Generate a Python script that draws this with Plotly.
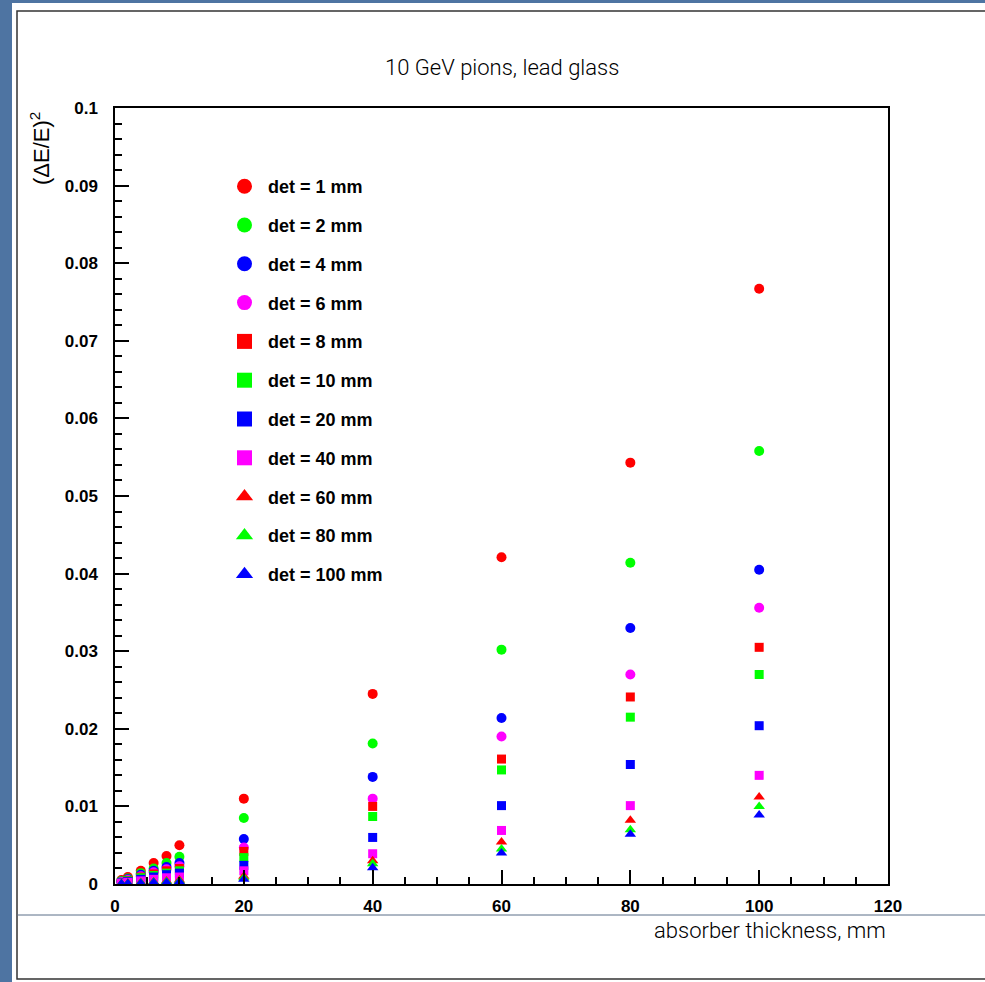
import plotly.graph_objects as go

# absorber thickness, mm
thickness = [1, 2, 4, 6, 8, 10, 20, 40, 60, 80, 100]

# (dE/E)^2 for each detector thickness
det_1 = [0.0005, 0.0009, 0.0017, 0.0027, 0.0036, 0.0050, 0.0110, 0.0245, 0.0421, 0.0543, 0.0767]
det_2 = [0.0004, 0.0007, 0.0014, 0.0020, 0.0027, 0.0035, 0.0085, 0.0181, 0.0302, 0.0414, 0.0558]
det_4 = [0.0003, 0.0006, 0.0012, 0.0017, 0.0022, 0.0027, 0.0058, 0.0138, 0.0214, 0.0330, 0.0405]
det_6 = [0.00025, 0.0005, 0.0010, 0.0015, 0.0019, 0.0023, 0.0047, 0.0110, 0.0190, 0.0270, 0.0356]
det_8 = [0.0002, 0.00045, 0.0009, 0.0013, 0.0017, 0.0020, 0.0042, 0.0100, 0.0161, 0.0241, 0.0305]
det_10 = [0.0002, 0.0004, 0.0008, 0.0011, 0.0014, 0.0017, 0.0034, 0.0087, 0.0147, 0.0215, 0.0270]
det_20 = [0.00015, 0.0003, 0.0006, 0.0009, 0.0012, 0.0014, 0.0024, 0.0060, 0.0101, 0.0154, 0.0204]
det_40 = [0.0001, 0.0002, 0.0004, 0.0006, 0.0008, 0.0009, 0.0017, 0.0039, 0.0069, 0.0101, 0.0140]
det_60 = [0.00005, 0.0001, 0.0002, 0.0003, 0.0004, 0.0005, 0.0010, 0.0030, 0.0054, 0.0082, 0.0112]
det_80 = [0.00004, 0.00008, 0.00015, 0.00025, 0.0003, 0.0004, 0.0008, 0.0026, 0.0045, 0.0070, 0.0100]
det_100 = [0.00003, 0.00006, 0.0001, 0.0002, 0.0002, 0.0003, 0.0006, 0.0021, 0.0040, 0.0064, 0.0089]

series_names = ["det = 1 mm", "det = 2 mm", "det = 4 mm", "det = 6 mm", "det = 8 mm",
                "det = 10 mm", "det = 20 mm", "det = 40 mm", "det = 60 mm", "det = 80 mm",
                "det = 100 mm"]
series_values = [det_1, det_2, det_4, det_6, det_8, det_10, det_20, det_40, det_60, det_80, det_100]

colors = ["#ff0000", "#00ff00", "#0000ff", "#ff00ff"] * 2 + ["#ff0000", "#00ff00", "#0000ff"]
symbols = ["circle"] * 4 + ["square"] * 4 + ["triangle-up"] * 3
sizes = [10] * 4 + [9] * 4 + [10] * 3

title_text = "10 GeV pions, lead glass"
x_title = "absorber thickness, mm"
y_title = "(ΔE/E)<sup>2</sup>"

fig = go.Figure()
for i, (name, vals) in enumerate(zip(series_names, series_values)):
    fig.add_trace(go.Scatter(
        x=thickness, y=vals, mode="markers", name=name, legendgroup=name,
        showlegend=False,
        marker=dict(color=colors[i], symbol=symbols[i], size=sizes[i], line=dict(width=0)),
    ))
# legend entries (larger symbols, as in the reference legend)
for i, name in enumerate(series_names):
    fig.add_trace(go.Scatter(
        x=[None], y=[None], mode="markers", name=name, legendgroup=name,
        legendrank=i, showlegend=True,
        marker=dict(color=colors[i], symbol=symbols[i], size=15, line=dict(width=0)),
    ))

# plot area in pixels
L, R, T, B = 115, 888, 108, 884
W, H = 985, 982
pw, ph = R - L, B - T

def px(x):
    return (x - L) / pw

def py(y):
    return (B - y) / ph

bg_blue = "#4e74a2"
shapes = [
    dict(type="rect", xref="paper", yref="paper", x0=px(12), x1=px(990), y0=py(990), y1=py(3),
         fillcolor="white", line=dict(width=0), layer="below"),
    dict(type="rect", xref="paper", yref="paper", x0=px(17), x1=px(995), y0=py(979), y1=py(11),
         fillcolor="rgba(0,0,0,0)", line=dict(color="#333333", width=1.5), layer="below"),
    dict(type="line", xref="paper", yref="paper", x0=px(17), x1=px(990), y0=py(915), y1=py(915),
         line=dict(color="#5a6e88", width=1), layer="below"),
]

thin_font = dict(family="Roboto", size=22, color="black", weight=300)

annotations = [
    dict(text=title_text, xref="paper", yref="paper", x=px(502), y=py(68),
         xanchor="center", yanchor="middle", showarrow=False, font=thin_font),
    dict(text=x_title, xref="paper", yref="paper", x=1.0, y=py(930),
         xanchor="right", yanchor="middle", showarrow=False, font=thin_font),
    dict(text=y_title, xref="paper", yref="paper", x=px(40), y=py(149),
         xanchor="center", yanchor="middle", showarrow=False, textangle=-90,
         font=dict(family="Liberation Sans", size=22, color="black")),
]

tickfont = dict(family="Liberation Sans", size=17, color="black", weight="bold")

fig.update_layout(
    width=W, height=H,
    margin=dict(l=L, r=W - R, t=T, b=H - B, pad=0),
    paper_bgcolor=bg_blue,
    plot_bgcolor="white",
    shapes=shapes,
    annotations=annotations,
    showlegend=True,
    legend=dict(
        x=px(221), y=py(168), xanchor="left", yanchor="top",
        bgcolor="rgba(0,0,0,0)", borderwidth=0,
        font=dict(family="Liberation Sans", size=18, color="black", weight="bold"),
        tracegroupgap=12.4, itemwidth=37,
    ),
    xaxis=dict(
        range=[0, 120], dtick=20, tick0=0, showgrid=False, zeroline=False,
        showline=True, linecolor="black", linewidth=1.5, mirror=True,
        ticks="inside", ticklen=14, tickwidth=1.5, tickcolor="black",
        minor=dict(dtick=5, ticks="inside", ticklen=7, tickwidth=1.5, tickcolor="black", showgrid=False),
        tickfont=tickfont, ticklabelstandoff=6,
    ),
    yaxis=dict(
        range=[0, 0.1], dtick=0.01, tick0=0, showgrid=False, zeroline=False,
        showline=True, linecolor="black", linewidth=1.5, mirror=True,
        ticks="inside", ticklen=14, tickwidth=1.5, tickcolor="black",
        minor=dict(dtick=0.002, ticks="inside", ticklen=7, tickwidth=1.5, tickcolor="black", showgrid=False),
        tickfont=tickfont, ticklabelstandoff=12,
    ),
)

fig.write_html("out.html")
